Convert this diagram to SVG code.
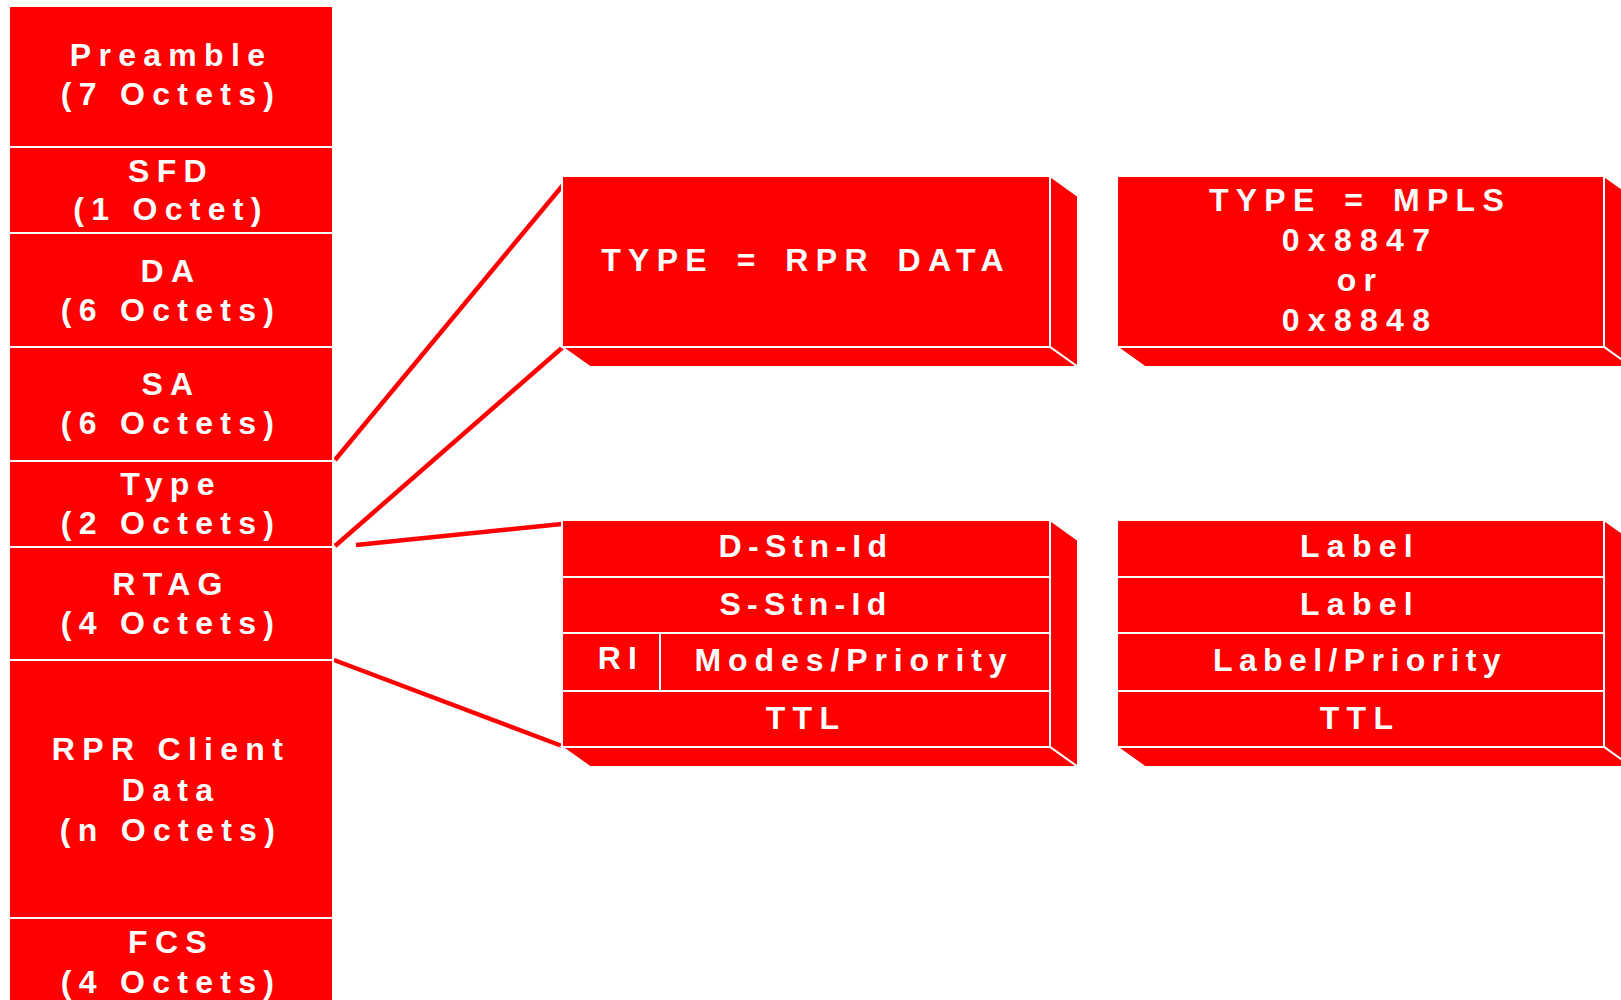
<svg xmlns="http://www.w3.org/2000/svg" width="1621" height="1000" viewBox="0 0 1621 1000">
<style>
.f{fill:#FF0000;stroke:#FFFFFF;stroke-width:2}
.t{font-family:"Liberation Sans",Arial,sans-serif;font-weight:bold;font-size:32px;fill:#FFFFFF;letter-spacing:7.3px;text-anchor:middle}
.w{word-spacing:6.5px}
.c{stroke:#FF0000;stroke-width:4.5;fill:none}
</style>
<rect width="1621" height="1000" fill="#FFFFFF"/>
<g id="connectors">
<line class="c" x1="335" y1="460" x2="563" y2="185"/>
<line class="c" x1="335" y1="546" x2="563" y2="347"/>
<line class="c" x1="356" y1="545" x2="562" y2="524"/>
<line class="c" x1="334" y1="660" x2="562" y2="746"/>
</g>
<g id="frame">
<g id="preamble"><rect class="f" x="9" y="6" width="324" height="141"/><text class="t" x="171" y="66">Preamble</text><text class="t" x="171" y="105">(7 Octets)</text></g>
<g id="sfd"><rect class="f" x="9" y="147" width="324" height="86"/><text class="t" x="171" y="182">SFD</text><text class="t" x="171" y="220">(1 Octet)</text></g>
<g id="da"><rect class="f" x="9" y="233" width="324" height="114"/><text class="t" x="171" y="282">DA</text><text class="t" x="171" y="321">(6 Octets)</text></g>
<g id="sa"><rect class="f" x="9" y="347" width="324" height="114"/><text class="t" x="171" y="395">SA</text><text class="t" x="171" y="434">(6 Octets)</text></g>
<g id="type"><rect class="f" x="9" y="461" width="324" height="86"/><text class="t" x="171" y="495">Type</text><text class="t" x="171" y="534">(2 Octets)</text></g>
<g id="rtag"><rect class="f" x="9" y="547" width="324" height="113"/><text class="t" x="171" y="595">RTAG</text><text class="t" x="171" y="634">(4 Octets)</text></g>
<g id="client"><rect class="f" x="9" y="660" width="324" height="258"/><text class="t" x="171" y="760">RPR Client</text><text class="t" x="171" y="801">Data</text><text class="t" x="171" y="841">(n Octets)</text></g>
<g id="fcs"><rect class="f" x="9" y="918" width="324" height="90"/><text class="t" x="171" y="953">FCS</text><text class="t" x="171" y="993">(4 Octets)</text></g>
</g>
<g id="rpr-data">
<polygon class="f" points="1050,176 1078,196 1078,367 1050,347"/>
<polygon class="f" points="562,347 1050,347 1078,367 590,367"/>
<rect class="f" x="562" y="176" width="488" height="171"/>
<text class="t w" x="806" y="271">TYPE = RPR DATA</text>
</g>
<g id="mpls-type">
<polygon class="f" points="1604,176 1632,196 1632,367 1604,347"/>
<polygon class="f" points="1117,347 1604,347 1632,367 1145,367"/>
<rect class="f" x="1117" y="176" width="487" height="171"/>
<text class="t w" x="1360" y="211">TYPE = MPLS</text>
<text class="t" x="1360" y="251" style="letter-spacing:8.3px">0x8847</text>
<text class="t" x="1360" y="291">or</text>
<text class="t" x="1360" y="331" style="letter-spacing:8.3px">0x8848</text>
</g>
<g id="rtag-detail">
<polygon class="f" points="1050,520 1078,540 1078,767 1050,747"/>
<polygon class="f" points="562,747 1050,747 1078,767 590,767"/>
<rect class="f" x="562" y="520" width="488" height="57"/>
<rect class="f" x="562" y="577" width="488" height="56"/>
<rect class="f" x="562" y="633" width="98" height="58"/>
<rect class="f" x="660" y="633" width="390" height="58"/>
<rect class="f" x="562" y="691" width="488" height="56"/>
<text class="t" x="806" y="557" style="letter-spacing:6.3px">D-Stn-Id</text>
<text class="t" x="806" y="615" style="letter-spacing:6.3px">S-Stn-Id</text>
<text class="t" x="621" y="669">RI</text>
<text class="t" x="854" y="671" style="letter-spacing:6.9px">Modes/Priority</text>
<text class="t" x="806" y="729">TTL</text>
</g>
<g id="mpls-label">
<polygon class="f" points="1604,520 1632,540 1632,767 1604,747"/>
<polygon class="f" points="1117,747 1604,747 1632,767 1145,767"/>
<rect class="f" x="1117" y="520" width="487" height="57"/>
<rect class="f" x="1117" y="577" width="487" height="56"/>
<rect class="f" x="1117" y="633" width="487" height="58"/>
<rect class="f" x="1117" y="691" width="487" height="56"/>
<text class="t" x="1360" y="557">Label</text>
<text class="t" x="1360" y="615">Label</text>
<text class="t" x="1360" y="671" style="letter-spacing:6.4px">Label/Priority</text>
<text class="t" x="1360" y="729">TTL</text>
</g>
</svg>
